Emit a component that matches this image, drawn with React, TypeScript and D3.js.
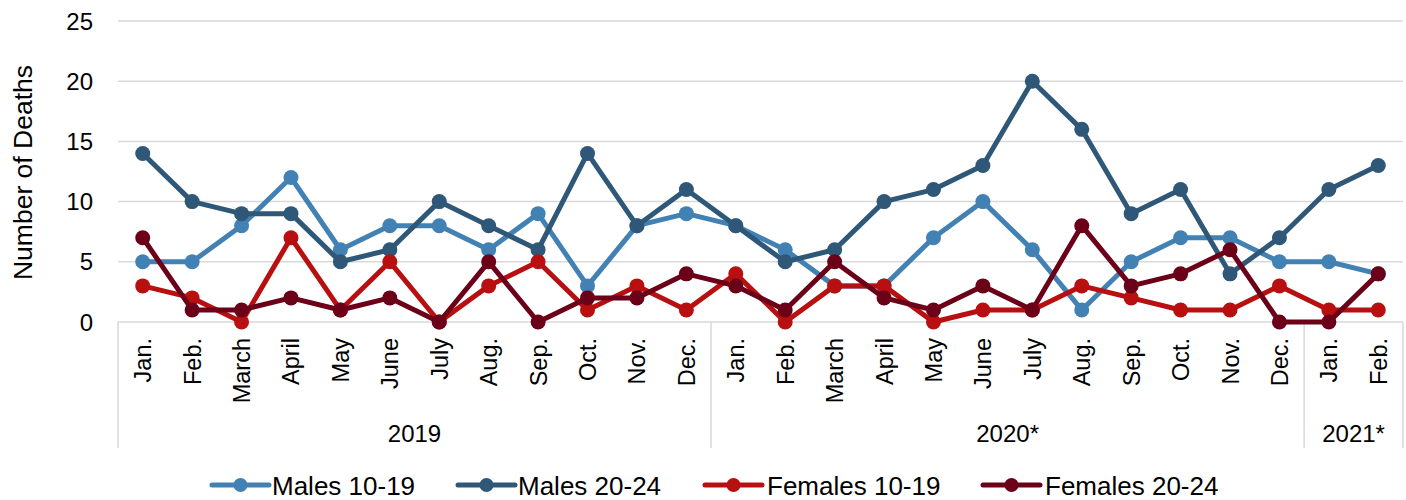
import React from "react";
import * as d3 from "d3";

const months = [
  "Jan.", "Feb.", "March", "April", "May", "June", "July", "Aug.", "Sep.", "Oct.", "Nov.", "Dec.",
  "Jan.", "Feb.", "March", "April", "May", "June", "July", "Aug.", "Sep.", "Oct.", "Nov.", "Dec.",
  "Jan.", "Feb.",
];
const yearLabels = ["2019", "2020*", "2021*"];
const yearCounts = [12, 12, 2];

const males1019 = [5, 5, 8, 12, 6, 8, 8, 6, 9, 3, 8, 9, 8, 6, 3, 3, 7, 10, 6, 1, 5, 7, 7, 5, 5, 4];
const males2024 = [14, 10, 9, 9, 5, 6, 10, 8, 6, 14, 8, 11, 8, 5, 6, 10, 11, 13, 20, 16, 9, 11, 4, 7, 11, 13];
const females1019 = [3, 2, 0, 7, 1, 5, 0, 3, 5, 1, 3, 1, 4, 0, 3, 3, 0, 1, 1, 3, 2, 1, 1, 3, 1, 1];
const females2024 = [7, 1, 1, 2, 1, 2, 0, 5, 0, 2, 2, 4, 3, 1, 5, 2, 1, 3, 1, 8, 3, 4, 6, 0, 0, 4];

const seriesNames = ["Males 10-19", "Males 20-24", "Females 10-19", "Females 20-24"];
const seriesValues = [males1019, males2024, females1019, females2024];
const seriesColors = ["#4281b3", "#2e5778", "#b80f10", "#6b0018"];

const yTicks = [0, 5, 10, 15, 20, 25];

const FONT = "'Liberation Sans', Arial, sans-serif";

export default function App() {
  const W = 1406;
  const H = 500;
  const left = 118;
  const right = 1403;
  const top = 21;
  const bottom = 322;

  const keys = months.map((_, i) => String(i));
  const x = d3.scaleBand<string>().domain(keys).range([left, right]).padding(0);
  const cx = (i: number) => (x(String(i)) as number) + x.bandwidth() / 2;
  const y = d3.scaleLinear().domain([0, 25]).range([bottom, top]);

  const line = d3
    .line<number>()
    .x((_, i) => cx(i))
    .y((d) => y(d));

  const bounds: number[] = [0];
  yearCounts.forEach((c) => bounds.push(bounds[bounds.length - 1] + c));
  const boundX = (k: number) =>
    k >= months.length ? right : (x(String(k)) as number);

  const legendItems = [
    { lineX: 212, textX: 272 },
    { lineX: 458, textX: 518 },
    { lineX: 705, textX: 767 },
    { lineX: 983, textX: 1045 },
  ];

  return (
    <svg
      width={W}
      height={H}
      style={{ position: "absolute", left: 0, top: 0, background: "#fff" }}
      fontFamily={FONT}
    >
      {yTicks.map((t) => (
        <line
          key={"g" + t}
          x1={left}
          x2={right}
          y1={y(t)}
          y2={y(t)}
          stroke="#d9d9d9"
          strokeWidth={1.5}
        />
      ))}
      {yTicks.map((t) => (
        <text
          key={"t" + t}
          x={93}
          y={y(t) + 8.5}
          textAnchor="end"
          fontSize={24}
          fill="#000"
        >
          {t}
        </text>
      ))}
      <text
        transform={`translate(32,${172.5}) rotate(-90)`}
        textAnchor="middle"
        fontSize={26.5}
        fill="#000"
      >
        Number of Deaths
      </text>

      {bounds.map((b, i) => (
        <line
          key={"s" + i}
          x1={boundX(b)}
          x2={boundX(b)}
          y1={bottom}
          y2={448}
          stroke="#d9d9d9"
          strokeWidth={1.5}
        />
      ))}

      {months.map((m, i) => (
        <text
          key={"m" + i}
          transform={`translate(${cx(i) + 8.5},338) rotate(-90)`}
          textAnchor="end"
          fontSize={23.5}
          fill="#000"
        >
          {m}
        </text>
      ))}

      {yearLabels.map((yl, i) => (
        <text
          key={"y" + i}
          x={(boundX(bounds[i]) + boundX(bounds[i + 1])) / 2}
          y={442}
          textAnchor="middle"
          fontSize={24}
          fill="#000"
        >
          {yl}
        </text>
      ))}

      {seriesValues.map((vals, si) => (
        <g key={"ser" + si}>
          <path
            d={line(vals) || ""}
            fill="none"
            stroke={seriesColors[si]}
            strokeWidth={5}
            strokeLinejoin="round"
            strokeLinecap="round"
          />
          {vals.map((v, i) => (
            <circle key={i} cx={cx(i)} cy={y(v)} r={7.5} fill={seriesColors[si]} />
          ))}
        </g>
      ))}

      {legendItems.map((it, i) => (
        <g key={"l" + i}>
          <line
            x1={it.lineX}
            x2={it.lineX + 57}
            y1={485}
            y2={485}
            stroke={seriesColors[i]}
            strokeWidth={5}
            strokeLinecap="round"
          />
          <circle cx={it.lineX + 28.5} cy={485} r={7} fill={seriesColors[i]} />
          <text x={it.textX} y={494.5} fontSize={26} fill="#000">
            {seriesNames[i]}
          </text>
        </g>
      ))}
    </svg>
  );
}
